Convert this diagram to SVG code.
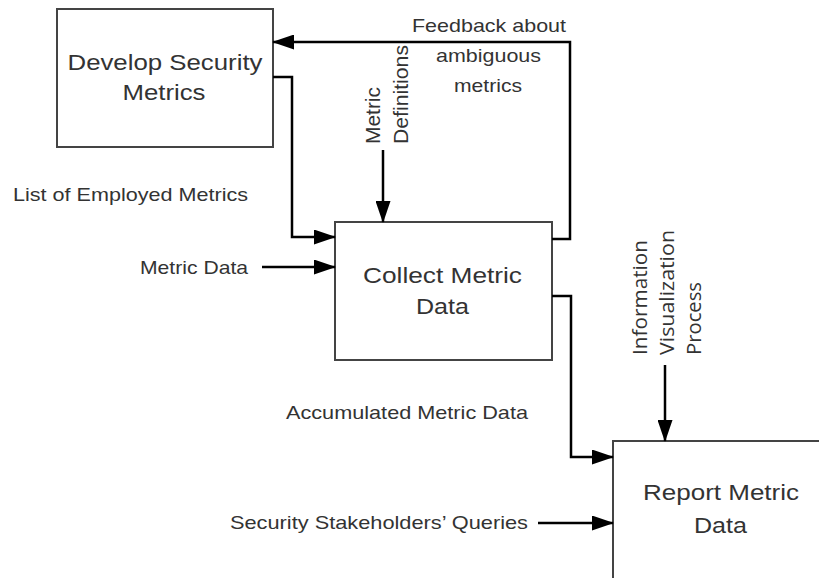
<svg xmlns="http://www.w3.org/2000/svg" width="819" height="578" viewBox="0 0 819 578">
<style>
.box{fill:#fff;stroke:#444;stroke-width:2}
.node{font-family:"Liberation Sans",Arial,sans-serif;font-size:22px;fill:#333;text-anchor:middle}
.lbl{font-family:"Liberation Sans",Arial,sans-serif;font-size:18.5px;fill:#333}
.vl{font-family:"Liberation Sans",Arial,sans-serif;font-size:21px;fill:#333}
.vl2{font-family:"Open Sans","Noto Sans",sans-serif;font-size:20px;fill:#333}
.c{fill:none;stroke:#000;stroke-width:2.5;marker-end:url(#ah)}
</style>
<defs>
<marker id="ah" markerUnits="userSpaceOnUse" markerWidth="22" markerHeight="15" refX="21" refY="7.5" orient="auto">
<path d="M0,0 L22,7.5 L0,15 Z" fill="#000"/>
</marker>
</defs>
<rect width="819" height="578" fill="#fff"/>
<g id="develop">
<rect class="box" x="57" y="9" width="216" height="138"/>
<text class="node" x="165" y="70" textLength="195" lengthAdjust="spacingAndGlyphs">Develop Security</text>
<text class="node" x="164" y="100" textLength="83" lengthAdjust="spacingAndGlyphs">Metrics</text>
</g>
<g id="collect">
<rect class="box" x="335" y="222" width="217" height="138"/>
<text class="node" x="442.5" y="283" textLength="159" lengthAdjust="spacingAndGlyphs">Collect Metric</text>
<text class="node" x="442.5" y="314" textLength="53" lengthAdjust="spacingAndGlyphs">Data</text>
</g>
<g id="report">
<rect class="box" x="613" y="441" width="217" height="139"/>
<text class="node" x="721" y="500" textLength="156" lengthAdjust="spacingAndGlyphs">Report Metric</text>
<text class="node" x="720.5" y="533" textLength="53" lengthAdjust="spacingAndGlyphs">Data</text>
</g>
<g id="connectors">
<path class="c" d="M552,239 H570 V42 H273"/>
<path class="c" d="M273,77 H292 V237 H335"/>
<path class="c" d="M262,267 H335"/>
<path class="c" d="M383,150 V222"/>
<path class="c" d="M552,296 H571 V457 H613"/>
<path class="c" d="M665,365 V441"/>
<path class="c" d="M538,523 H613"/>
</g>
<g id="labels">
<text class="lbl" x="489" y="32" text-anchor="middle" textLength="154" lengthAdjust="spacingAndGlyphs">Feedback about</text>
<text class="lbl" x="488.5" y="62" text-anchor="middle" textLength="105" lengthAdjust="spacingAndGlyphs">ambiguous</text>
<text class="lbl" x="488" y="92" text-anchor="middle" textLength="68" lengthAdjust="spacingAndGlyphs">metrics</text>
<text class="lbl" x="13" y="201" textLength="235" lengthAdjust="spacingAndGlyphs">List of Employed Metrics</text>
<text class="lbl" x="140" y="274" textLength="108" lengthAdjust="spacingAndGlyphs">Metric Data</text>
<text class="lbl" x="286" y="419" textLength="242" lengthAdjust="spacingAndGlyphs">Accumulated Metric Data</text>
<text class="lbl" x="230" y="529" textLength="298" lengthAdjust="spacingAndGlyphs">Security Stakeholders’ Queries</text>
<text class="vl" transform="translate(380,144) rotate(-90)" textLength="57" lengthAdjust="spacingAndGlyphs">Metric</text>
<text class="vl" transform="translate(408,144) rotate(-90)" textLength="99" lengthAdjust="spacingAndGlyphs">Definitions</text>
<text class="vl2" transform="translate(647,355) rotate(-90)" textLength="115" lengthAdjust="spacingAndGlyphs">Information</text>
<text class="vl2" transform="translate(674,355) rotate(-90)" textLength="125" lengthAdjust="spacingAndGlyphs">Visualization</text>
<text class="vl2" transform="translate(701,355) rotate(-90)" textLength="73" lengthAdjust="spacingAndGlyphs">Process</text>
</g>
</svg>
